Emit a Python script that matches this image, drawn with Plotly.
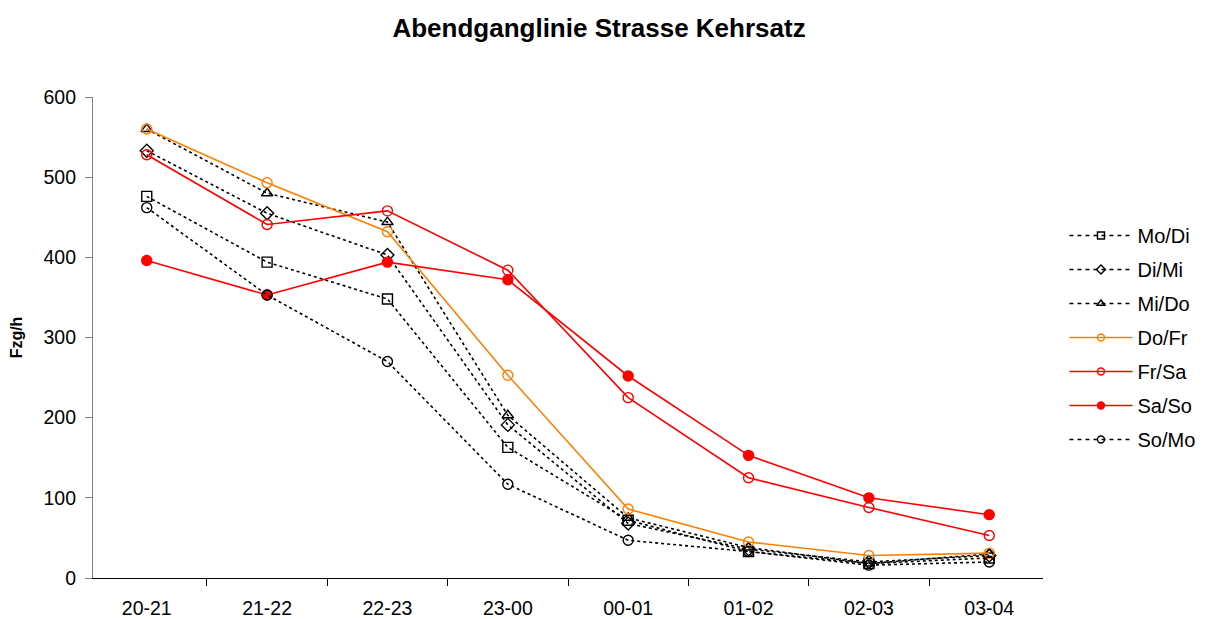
import plotly.graph_objects as go

categories = ["20-21", "21-22", "22-23", "23-00", "00-01", "01-02", "02-03", "03-04"]
mo_di = [476, 394, 348, 163, 72, 33, 18, 25]
di_mi = [533, 455, 403, 191, 68, 36, 20, 28]
mi_do = [560, 480, 444, 203, 75, 38, 18, 30]
do_fr = [560, 493, 432, 253, 86, 45, 28, 31]
fr_sa = [528, 441, 458, 384, 225, 125, 88, 53]
sa_so = [396, 353, 394, 372, 252, 153, 100, 79]
so_mo = [462, 353, 270, 117, 47, 33, 16, 20]

series = [
    ("Mo/Di", mo_di, "black", "dot", "square-open"),
    ("Di/Mi", di_mi, "black", "dot", "diamond-open"),
    ("Mi/Do", mi_do, "black", "dot", "triangle-up-open"),
    ("Do/Fr", do_fr, "#FF7F00", "solid", "circle-open"),
    ("Fr/Sa", fr_sa, "#FF0000", "solid", "circle-open"),
    ("Sa/So", sa_so, "#FF0000", "solid", "circle"),
    ("So/Mo", so_mo, "black", "dot", "circle-open"),
]

fig = go.Figure()
for name, vals, color, dash, sym in series:
    fig.add_trace(go.Scatter(
        x=categories, y=vals, name=name, mode="lines+markers",
        legendgroup=name, showlegend=False,
        line=dict(color=color, width=1.6, dash=dash),
        marker=dict(symbol=sym, size=10, color=color, line=dict(color=color, width=1.4)),
    ))
# legend entries (smaller symbols, like the reference legend)
for name, vals, color, dash, sym in series:
    fig.add_trace(go.Scatter(
        x=[None], y=[None], name=name, mode="lines+markers",
        legendgroup=name, showlegend=True,
        line=dict(color=color, width=1.6, dash=("4px,4px" if dash == "dot" else dash)),
        marker=dict(symbol=sym, size=7, color=color, line=dict(color=color, width=1.4)),
    ))

fig.update_layout(
    width=1205, height=619,
    paper_bgcolor="white", plot_bgcolor="white",
    font=dict(family="Liberation Sans, Arial, sans-serif", size=19.5, color="black"),
    title=dict(text="<b>Abendganglinie Strasse Kehrsatz</b>", x=0.4905, xanchor="center",
               y=0.968, yanchor="middle", font=dict(size=26)),
    margin=dict(l=85, r=170, t=89, b=49, autoexpand=False),
    showlegend=True,
    legend=dict(x=1.0226, xanchor="left", y=0.5, yanchor="middle",
                traceorder="grouped", tracegroupgap=5,
                font=dict(size=20), itemwidth=63, bgcolor="rgba(0,0,0,0)"),
)
fig.update_xaxes(
    type="category", showline=True, linecolor="black", linewidth=1.2,
    ticks="outside", tickson="boundaries", ticklen=7, tickcolor="black",
    showgrid=False, tickfont=dict(size=19.5), zeroline=False, ticklabelstandoff=12,
    automargin=False,
)
fig.update_yaxes(
    range=[0, 600], dtick=100, showline=True, linecolor="#808080", linewidth=1.2,
    ticks="outside", ticklen=7, tickcolor="#808080", showgrid=False,
    tickfont=dict(size=19.5), zeroline=False, ticklabelstandoff=5,
    title=dict(text="<b>Fzg/h</b>", font=dict(size=16), standoff=17),
    automargin=False,
)

fig.write_html("out.html")
